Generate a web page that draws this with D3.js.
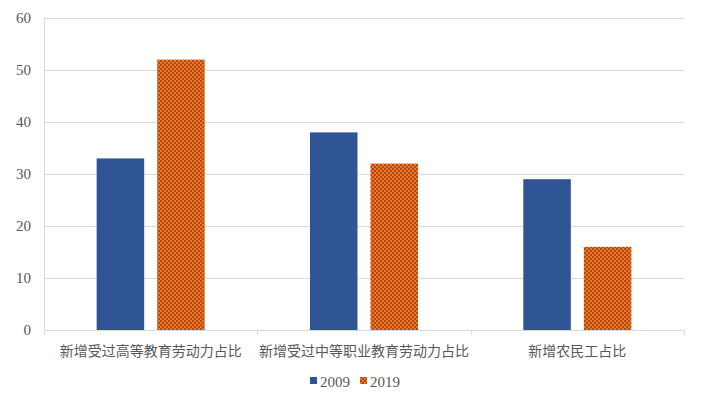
<!DOCTYPE html>
<html><head><meta charset="utf-8">
<script src="https://cdn.jsdelivr.net/npm/d3@7"></script>
<style>body{margin:0;background:#fff}svg{display:block}</style>
</head><body><svg id="c" width="704" height="401"></svg>
<script>
const categories = ["新增受过高等教育劳动力占比","新增受过中等职业教育劳动力占比","新增农民工占比"];
const seriesNames = ["2009","2019"];
const values2009 = [33,38,29];
const values2019 = [52,32,16];
const yTicks = [0,10,20,30,40,50,60];

const svg = d3.select("#c");
const m = {l:44,r:684,t:18,b:330};
const x = d3.scaleBand().domain(categories).range([m.l,m.r]).padding(0);
const y = d3.scaleLinear().domain([0,60]).range([m.b,m.t]);

const defs = svg.append("defs");
const pat = defs.append("pattern").attr("id","chk").attr("patternUnits","userSpaceOnUse").attr("width",4).attr("height",4);
pat.append("rect").attr("width",4).attr("height",4).attr("fill","#E8792A");
pat.append("rect").attr("width",2).attr("height",2).attr("fill","#B9460E");
pat.append("rect").attr("x",2).attr("y",2).attr("width",2).attr("height",2).attr("fill","#B9460E");

// grid
svg.append("g").selectAll("line").data(yTicks.filter(d=>d>0)).join("line")
  .attr("x1",m.l).attr("x2",m.r).attr("y1",d=>y(d)+0.5).attr("y2",d=>y(d)+0.5)
  .attr("stroke","#D9D9D9").attr("stroke-width",1);
// y axis line
svg.append("line").attr("x1",m.l+0.5).attr("x2",m.l+0.5).attr("y1",m.t).attr("y2",m.b).attr("stroke","#D9D9D9");

// y labels
svg.append("g").selectAll("text").data(yTicks).join("text")
  .attr("x",31).attr("y",d=>y(d)+5).attr("text-anchor","end")
  .attr("font-family","Liberation Serif, serif").attr("font-size",15).attr("fill","#595959")
  .text(d=>d);

const xsub = d3.scaleBand().domain(seriesNames).range([0,x.bandwidth()]).paddingInner(0.215).paddingOuter(0.87);
const data = [values2009, values2019];
const fills = ["#2F5597","url(#chk)"];
seriesNames.forEach((s,i)=>{
  svg.append("g").selectAll("rect").data(categories).join("rect")
    .attr("x",c=>x(c)+xsub(s)).attr("width",xsub.bandwidth())
    .attr("y",(c,j)=>y(data[i][j])).attr("height",(c,j)=>y(0)-y(data[i][j]))
    .attr("fill",fills[i]);
});

// x axis
svg.append("line").attr("x1",m.l).attr("x2",m.r).attr("y1",m.b+0.5).attr("y2",m.b+0.5).attr("stroke","#D9D9D9");
const bounds = [m.l, ...categories.map(c=>x(c)+x.bandwidth())];
svg.append("g").selectAll("line").data(bounds).join("line")
  .attr("x1",d=>Math.round(d)+0.5).attr("x2",d=>Math.round(d)+0.5).attr("y1",m.b).attr("y2",m.b+5).attr("stroke","#D9D9D9");

svg.append("g").selectAll("text").data(categories).join("text")
  .attr("x",c=>x(c)+x.bandwidth()/2).attr("y",356).attr("text-anchor","middle")
  .attr("font-family","Noto Sans CJK SC, sans-serif").attr("font-size",14).attr("fill","#595959")
  .text(c=>c);

// legend
const lg = svg.append("g");
const lx = [310,360];
seriesNames.forEach((s,i)=>{
  lg.append("rect").attr("x",lx[i]).attr("y",377).attr("width",7).attr("height",7).attr("fill",fills[i]);
  lg.append("text").attr("x",lx[i]+10).attr("y",387).attr("font-family","Liberation Serif, serif").attr("font-size",15).attr("fill","#595959").text(s);
});
</script></body></html>
